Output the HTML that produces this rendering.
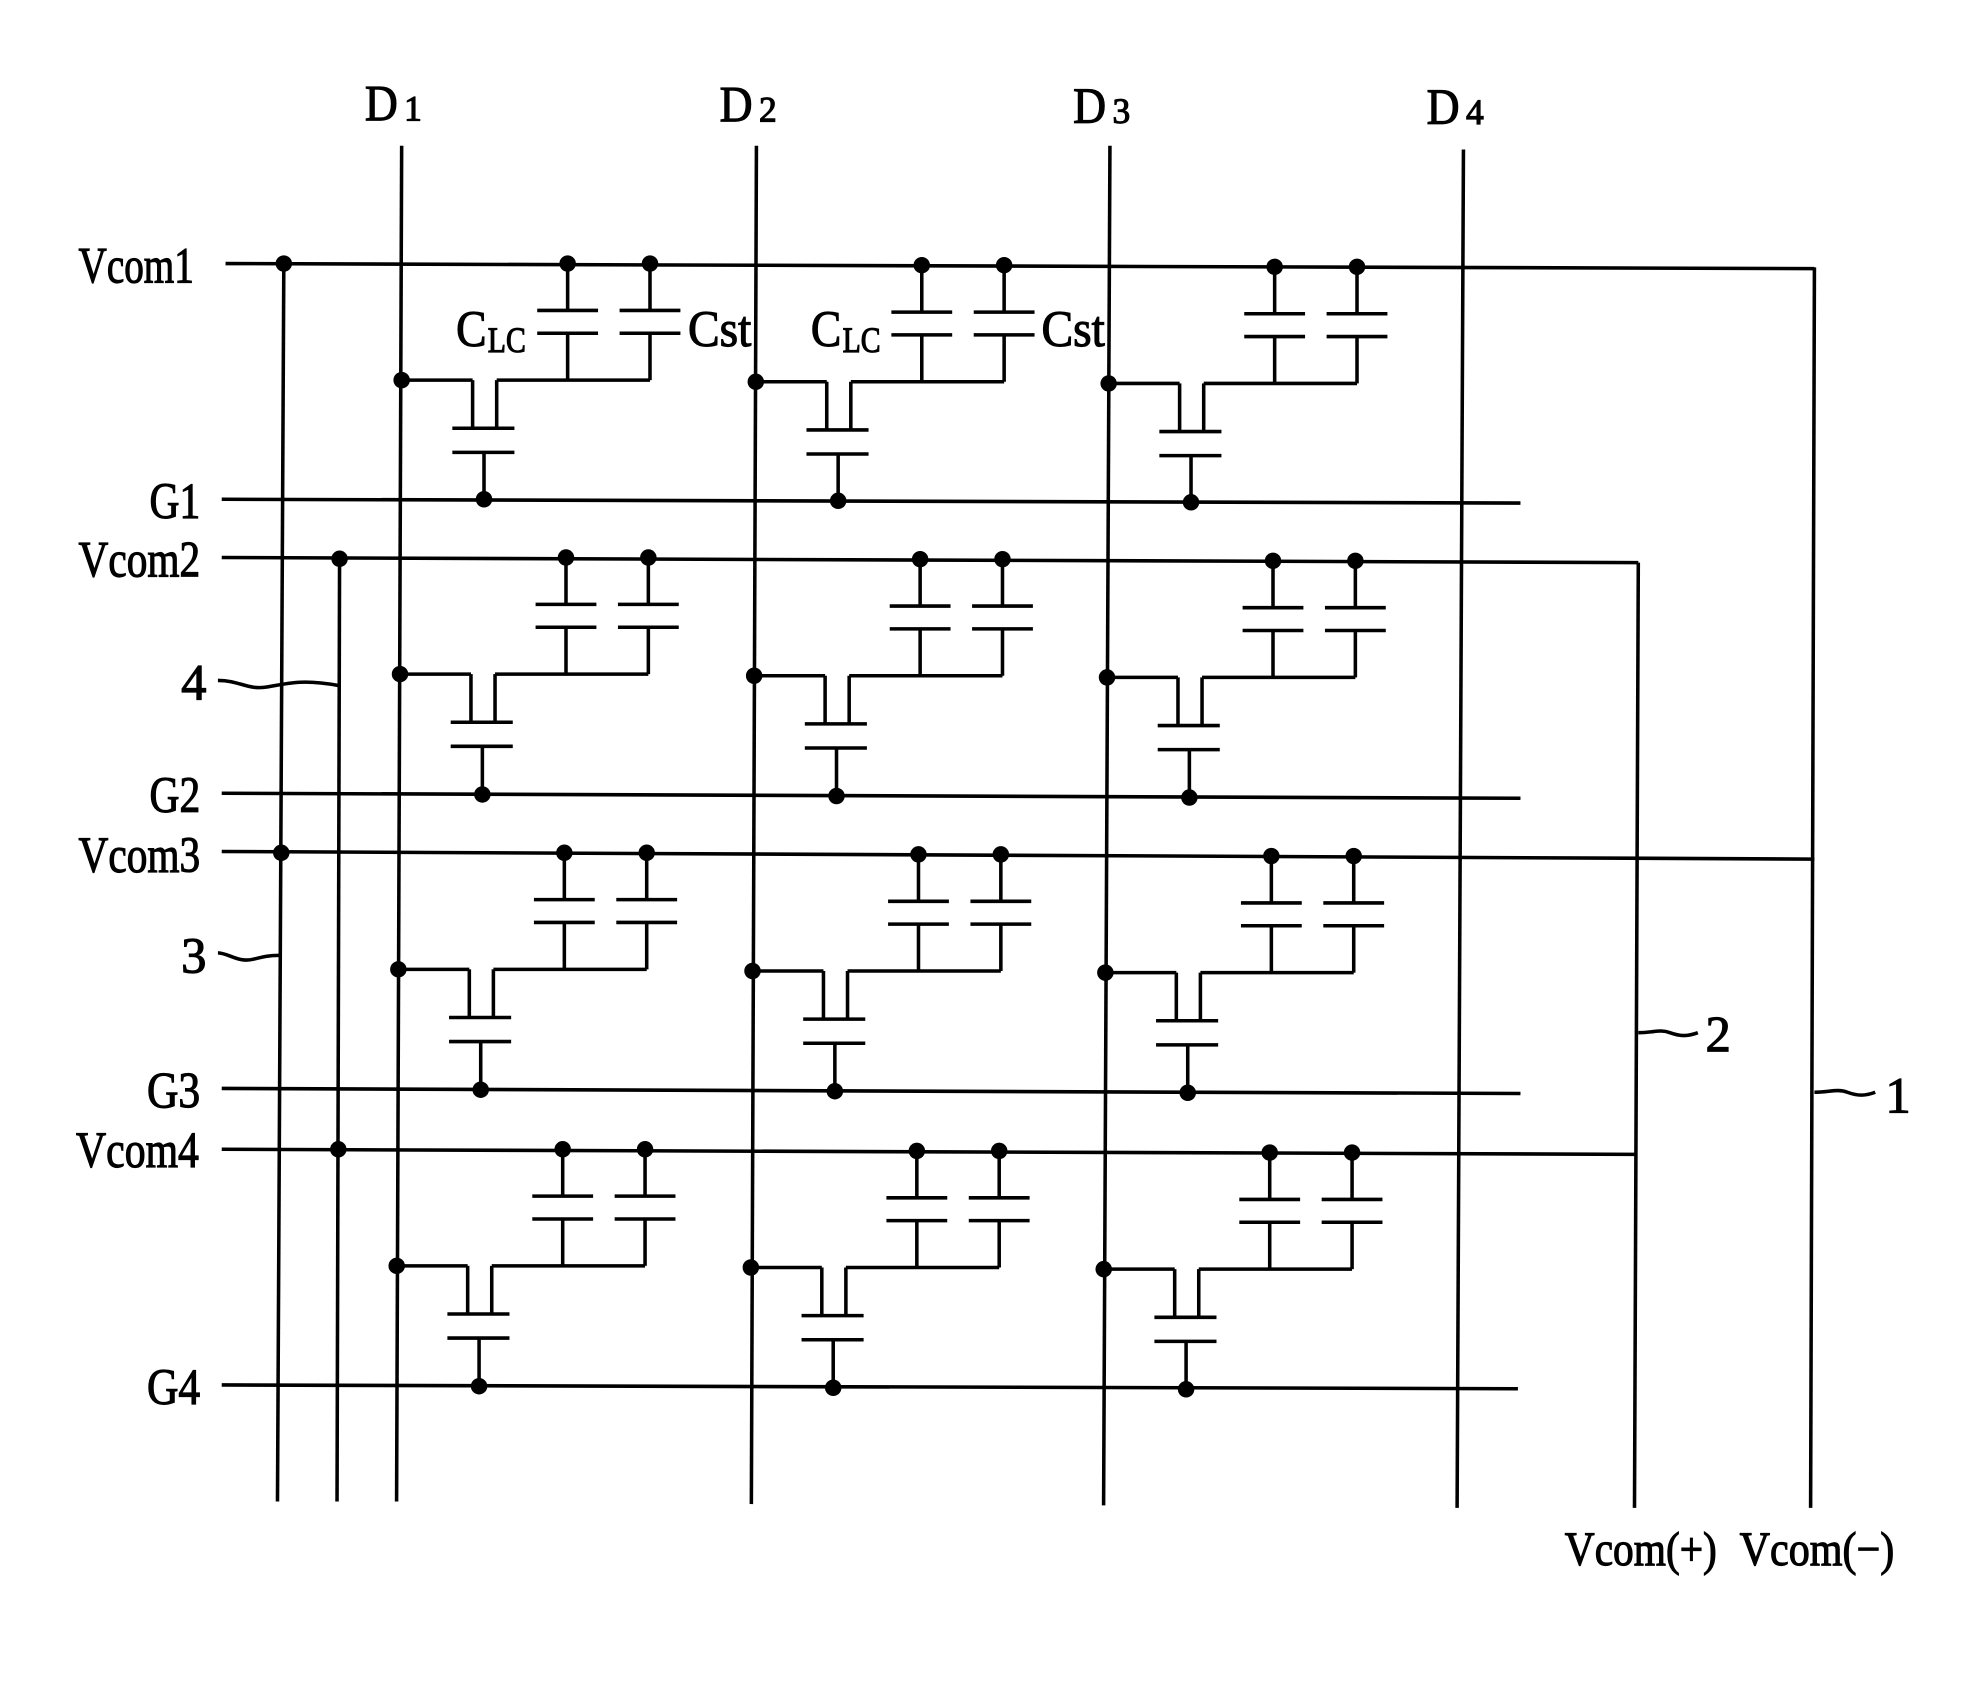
<!DOCTYPE html>
<html><head><meta charset="utf-8"><style>
html,body{margin:0;padding:0;background:#fff;}
svg{display:block;}
text{font-family:"Liberation Serif",serif;fill:#000;stroke:#000;stroke-width:0.9;}
</style></head><body>
<svg id="s" width="1988" height="1703" viewBox="0 0 1569 1344" preserveAspectRatio="none" xmlns="http://www.w3.org/2000/svg">
<g stroke="#000" stroke-width="2.8" fill="none" id="L">
<line x1="224" y1="208" x2="219" y2="1185"/>
<line x1="268" y1="440" x2="266" y2="1185"/>
<line x1="317" y1="115" x2="313" y2="1185"/>
<line x1="597" y1="115" x2="593" y2="1187"/>
<line x1="876" y1="115" x2="871" y2="1188"/>
<line x1="1155" y1="118" x2="1150" y2="1190"/>
<line x1="1293" y1="444" x2="1290" y2="1190"/>
<line x1="1432" y1="211" x2="1429" y2="1190"/>
<line x1="178" y1="208" x2="1432" y2="212"/>
<line x1="175" y1="394" x2="1200" y2="397"/>
<line x1="175" y1="440" x2="1293" y2="444"/>
<line x1="175" y1="626" x2="1200" y2="630"/>
<line x1="175" y1="672" x2="1432" y2="678"/>
<line x1="175" y1="859" x2="1200" y2="863"/>
<line x1="175" y1="907" x2="1290" y2="911"/>
<line x1="175" y1="1093" x2="1198" y2="1096"/>
<path d="M172,537 C190,537 195,545 212,542 C228,539 240,536 267,541"/>
<path d="M172,752 C180,752 188,760 200,757 C208,755 212,754 220,754"/>
<path d="M1293,815 C1305,815 1310,812 1318,815 C1326,818 1332,818 1340,815"/>
<path d="M1432,862 C1444,862 1450,859 1458,862 C1466,865 1472,865 1480,862"/>
</g>
<g fill="#000" id="D">
<circle cx="224" cy="208" r="6.5"/>
<circle cx="268" cy="441" r="6.5"/>
<circle cx="222" cy="673" r="6.5"/>
<circle cx="267" cy="907" r="6.5"/>
</g>
<g id="T">
<text x="288" y="95" font-size="40" textLength="26" lengthAdjust="spacingAndGlyphs">D</text><text x="319" y="95" font-size="28">1</text>
<text x="568" y="96" font-size="40" textLength="26" lengthAdjust="spacingAndGlyphs">D</text><text x="599" y="96" font-size="28">2</text>
<text x="847" y="97" font-size="40" textLength="26" lengthAdjust="spacingAndGlyphs">D</text><text x="878" y="97" font-size="28">3</text>
<text x="1126" y="98" font-size="40" textLength="26" lengthAdjust="spacingAndGlyphs">D</text><text x="1157" y="98" font-size="28">4</text>
<text x="62" y="223" font-size="40" textLength="91" lengthAdjust="spacingAndGlyphs">Vcom1</text>
<text x="62" y="455" font-size="40" textLength="96" lengthAdjust="spacingAndGlyphs">Vcom2</text>
<text x="62" y="688" font-size="40" textLength="96" lengthAdjust="spacingAndGlyphs">Vcom3</text>
<text x="60" y="921" font-size="40" textLength="97" lengthAdjust="spacingAndGlyphs">Vcom4</text>
<text x="118" y="409" font-size="40" textLength="40" lengthAdjust="spacingAndGlyphs">G1</text>
<text x="118" y="641" font-size="40" textLength="40" lengthAdjust="spacingAndGlyphs">G2</text>
<text x="116" y="874" font-size="40" textLength="42" lengthAdjust="spacingAndGlyphs">G3</text>
<text x="116" y="1108" font-size="40" textLength="42" lengthAdjust="spacingAndGlyphs">G4</text>
<text x="143" y="552" font-size="40">4</text>
<text x="143" y="768" font-size="40">3</text>
<text x="1346" y="830" font-size="40">2</text>
<text x="1488" y="878" font-size="40">1</text>
<text x="360" y="273" font-size="40" textLength="24" lengthAdjust="spacingAndGlyphs">C</text><text x="385" y="278" font-size="28" textLength="30" lengthAdjust="spacingAndGlyphs">LC</text>
<text x="543" y="273" font-size="40" textLength="50" lengthAdjust="spacingAndGlyphs">Cst</text>
<text x="640" y="273" font-size="40" textLength="24" lengthAdjust="spacingAndGlyphs">C</text><text x="665" y="278" font-size="28" textLength="30" lengthAdjust="spacingAndGlyphs">LC</text>
<text x="822" y="273" font-size="40" textLength="50" lengthAdjust="spacingAndGlyphs">Cst</text>
<text x="1235" y="1235" font-size="38" textLength="120" lengthAdjust="spacingAndGlyphs">Vcom(+)</text>
<text x="1373" y="1235" font-size="38" textLength="122" lengthAdjust="spacingAndGlyphs">Vcom(−)</text>
</g>
</svg>
<script>
var L=document.getElementById('L'),Dg=document.getElementById('D'),NS='http://www.w3.org/2000/svg';
function ln(a,b,c,d){var e=document.createElementNS(NS,'line');e.setAttribute('x1',a);e.setAttribute('y1',b);e.setAttribute('x2',c);e.setAttribute('y2',d);L.appendChild(e);}
function dot(x,y){var e=document.createElementNS(NS,'circle');e.setAttribute('cx',x);e.setAttribute('cy',y);e.setAttribute('r',6.5);Dg.appendChild(e);}
var V=[208,440,673,907],G=[394,627,860,1094],C=[317,597,876];
for(var r=0;r<4;r++)for(var c=0;c<3;c++){
 var d=C[c]-r*1.3-c*0.5,v=V[r]+c*1.3,g=G[r]+c*1.2;
 var xa=d+131,xb=d+196;
 [xa,xb].forEach(function(x){dot(x,v);ln(x,v,x,v+37);ln(x-24,v+37,x+24,v+37);ln(x-24,v+55,x+24,v+55);ln(x,v+55,x,v+92);});
 dot(d,v+92);
 ln(d,v+92,d+56,v+92);ln(d+56,v+92,d+56,v+130);
 ln(d+75,v+130,d+75,v+92);ln(d+75,v+92,xb,v+92);
 ln(d+40,v+130,d+89,v+130);ln(d+40,v+149,d+89,v+149);
 ln(d+65,v+149,d+65,g);dot(d+65,g);
}
</script>
</body></html>
